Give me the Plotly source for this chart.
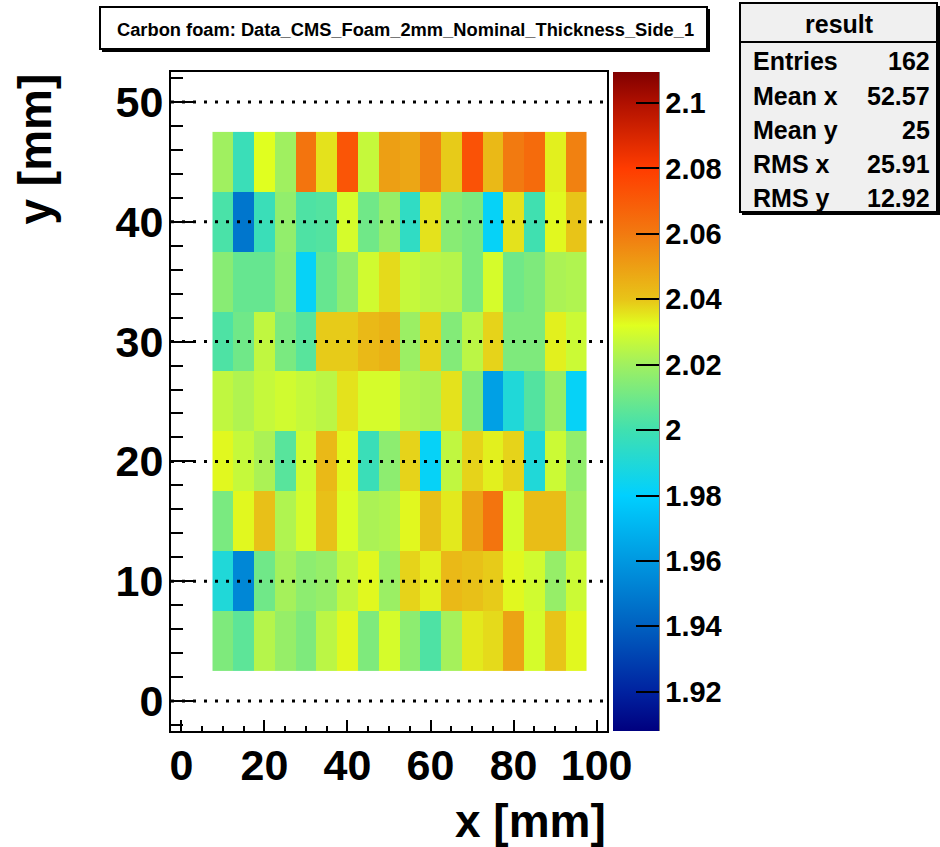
import plotly.graph_objects as go

# ---------------- data ----------------
x_centers = [10, 15, 20, 25, 30, 35, 40, 45, 50, 55, 60, 65, 70, 75, 80, 85, 90, 95]
y_centers = [5, 10, 15, 20, 25, 30, 35, 40, 45]

row_45 = [2.020, 1.998, 2.032, 2.020, 2.062, 2.036, 2.072, 2.027, 2.050, 2.048, 2.058, 2.039, 2.073, 2.043, 2.060, 2.065, 2.034, 2.058]
row_40 = [2.002, 1.948, 1.998, 2.017, 2.003, 2.004, 2.030, 2.010, 2.018, 1.995, 2.036, 2.015, 2.012, 1.982, 2.036, 2.000, 2.033, 2.040]
row_35 = [2.015, 2.008, 2.008, 2.016, 1.982, 2.008, 2.016, 2.029, 2.037, 2.027, 2.025, 2.024, 2.012, 2.030, 2.010, 2.013, 2.022, 2.023]
row_30 = [2.003, 2.010, 2.026, 2.012, 2.005, 2.039, 2.039, 2.043, 2.045, 2.019, 2.038, 2.014, 2.025, 2.038, 2.013, 2.013, 2.034, 2.028]
row_25 = [2.026, 2.023, 2.027, 2.029, 2.027, 2.025, 2.036, 2.030, 2.030, 2.023, 2.022, 2.036, 2.014, 1.963, 1.990, 2.004, 2.018, 1.982]
row_20 = [2.033, 2.027, 2.022, 2.005, 2.029, 2.043, 2.033, 1.998, 2.016, 2.038, 1.982, 2.026, 2.038, 2.034, 2.038, 1.990, 2.028, 2.017]
row_15 = [2.012, 2.033, 2.041, 2.023, 2.030, 2.041, 2.031, 2.022, 2.023, 2.033, 2.041, 2.035, 2.049, 2.062, 2.030, 2.042, 2.042, 2.020]
row_10 = [1.990, 1.954, 2.010, 2.021, 2.016, 2.018, 2.026, 2.033, 2.019, 2.038, 2.034, 2.043, 2.041, 2.039, 2.033, 2.029, 2.018, 2.028]
row_05 = [2.013, 2.006, 2.024, 2.018, 2.013, 2.025, 2.033, 2.013, 2.030, 2.016, 2.003, 2.021, 2.035, 2.037, 2.049, 2.030, 2.040, 2.033]

z_rows = [row_05, row_10, row_15, row_20, row_25, row_30, row_35, row_40, row_45]

z_min = 1.908
z_max = 2.1095
cbar_ticks = [1.92, 1.94, 1.96, 1.98, 2.00, 2.02, 2.04, 2.06, 2.08, 2.10]
cbar_ticktext = ["1.92", "1.94", "1.96", "1.98", "2", "2.02", "2.04", "2.06", "2.08", "2.1"]
x_ticks = [0, 20, 40, 60, 80, 100]
y_ticks = [0, 10, 20, 30, 40, 50]
grid_levels = [0, 10, 20, 30, 40, 50]

title_text = "Carbon foam: Data_CMS_Foam_2mm_Nominal_Thickness_Side_1"
stats_labels = ["Entries", "Mean x", "Mean y", "RMS x", "RMS y"]
stats_values = ["162", "52.57", "25", "25.91", "12.92"]

# ---------------- colours ----------------
anchor_vals = [1.908, 1.92, 1.94, 1.96, 1.98, 2.00, 2.02, 2.032, 2.04, 2.06, 2.08, 2.10, 2.1095]
anchor_cols = ["#00007f", "#0022a0", "#0060c0", "#0098e0", "#00d0ff", "#40e0b0",
               "#a0f060", "#e0ff20", "#e8c418", "#f27a10", "#ff3c00", "#b01000", "#800000"]
colorscale = [[(v - z_min) / (z_max - z_min), c] for v, c in zip(anchor_vals, anchor_cols)]

FONT = "Liberation Sans"

# ---------------- geometry helpers (pixels -> paper) ----------------
W, H = 940, 847
L, R, T, B = 171, 333, 72, 116
PW, PH = W - L - R, H - T - B


def px(xp):
    return (xp - L) / PW


def py(yp):
    return (H - B - yp) / PH


fig = go.Figure()
fig.add_trace(go.Heatmap(
    x=x_centers, y=y_centers, z=z_rows,
    zmin=z_min, zmax=z_max, colorscale=colorscale,
    hoverinfo="skip",
    colorbar=dict(
        x=px(613), xanchor="left", xpad=0, ypad=0,
        y=0.5, yanchor="middle", len=1, lenmode="fraction",
        thickness=46, thicknessmode="pixels",
        outlinewidth=0, borderwidth=0,
        tickmode="array", tickvals=cbar_ticks, ticktext=cbar_ticktext,
        ticks="inside", ticklen=23, tickwidth=2, tickcolor="black",
        tickfont=dict(family=FONT, size=29, color="black", weight="bold"),
    ),
))

shapes = []
# dotted horizontal grid lines on top of the cells
for g in grid_levels:
    shapes.append(dict(type="line", xref="paper", yref="y", x0=0, x1=1, y0=g, y1=g,
                       layer="above", line=dict(color="black", width=3, dash="3px,8px")))
# colour bar axis line
shapes.append(dict(type="line", xref="paper", yref="paper", x0=px(658), x1=px(658), y0=0, y1=1,
                   line=dict(color="black", width=3)))
# title box with shadow
shapes.append(dict(type="rect", xref="paper", yref="paper", x0=px(102), x1=px(710), y0=py(52), y1=py(9),
                   fillcolor="black", line=dict(width=0)))
shapes.append(dict(type="rect", xref="paper", yref="paper", x0=px(100), x1=px(707), y0=py(49), y1=py(7),
                   fillcolor="white", line=dict(color="black", width=2)))
# stats box with shadow
shapes.append(dict(type="rect", xref="paper", yref="paper", x0=px(742), x1=px(940), y0=py(215), y1=py(6),
                   fillcolor="black", line=dict(width=0)))
shapes.append(dict(type="rect", xref="paper", yref="paper", x0=px(740), x1=px(937), y0=py(212), y1=py(3),
                   fillcolor="#f0f0f0", line=dict(color="black", width=2)))
shapes.append(dict(type="line", xref="paper", yref="paper", x0=px(740), x1=px(937), y0=py(42), y1=py(42),
                   line=dict(color="black", width=2)))

annotations = []
annotations.append(dict(text=title_text, xref="paper", yref="paper", x=px(405), y=py(29),
                        xanchor="center", yanchor="middle", showarrow=False,
                        font=dict(family=FONT, size=18.3, color="black", weight="bold")))
annotations.append(dict(text="result", xref="paper", yref="paper", x=px(839), y=py(24),
                        xanchor="center", yanchor="middle", showarrow=False,
                        font=dict(family=FONT, size=25, color="black", weight="bold")))
row_y = [61, 96, 130, 164, 198]
for lab, val, yy in zip(stats_labels, stats_values, row_y):
    annotations.append(dict(text=lab, xref="paper", yref="paper", x=px(751), y=py(yy),
                            xanchor="left", yanchor="middle", showarrow=False,
                            font=dict(family=FONT, size=25, color="black", weight="bold")))
    annotations.append(dict(text=val, xref="paper", yref="paper", x=px(932), y=py(yy),
                            xanchor="right", yanchor="middle", showarrow=False,
                            font=dict(family=FONT, size=25, color="black", weight="bold")))
# axis titles
annotations.append(dict(text="x [mm]", xref="paper", yref="paper", x=px(608), y=py(821),
                        xanchor="right", yanchor="middle", showarrow=False,
                        font=dict(family=FONT, size=46, color="black", weight="bold")))
annotations.append(dict(text="y [mm]", xref="paper", yref="paper", x=px(34), y=1.0,
                        xanchor="center", yanchor="top", textangle=-90, showarrow=False,
                        font=dict(family=FONT, size=46, color="black", weight="bold")))

axis_font = dict(family=FONT, size=43, color="black", weight="bold")
fig.update_layout(
    width=W, height=H,
    margin=dict(l=L, r=R, t=T, b=B, pad=0),
    paper_bgcolor="white", plot_bgcolor="white",
    showlegend=False,
    shapes=shapes, annotations=annotations,
    xaxis=dict(range=[-2.5, 102.5], tickmode="array", tickvals=x_ticks,
               ticks="inside", ticklen=11, tickwidth=2, tickcolor="black",
               minor=dict(dtick=5, tick0=0, ticks="inside", ticklen=5, tickwidth=2, tickcolor="black", showgrid=False),
               showgrid=False, zeroline=False, showline=True, linecolor="black", linewidth=2, mirror=True,
               tickfont=axis_font, ticklabelstandoff=-5),
    yaxis=dict(range=[-2.5, 52.5], tickmode="array", tickvals=y_ticks,
               ticks="inside", ticklen=23, tickwidth=2, tickcolor="black",
               minor=dict(dtick=2, tick0=0, ticks="inside", ticklen=12, tickwidth=2, tickcolor="black", showgrid=False),
               showgrid=False, zeroline=False, showline=True, linecolor="black", linewidth=2, mirror=True,
               tickfont=axis_font, ticklabelstandoff=-3),
)

fig.write_html("out.html")
